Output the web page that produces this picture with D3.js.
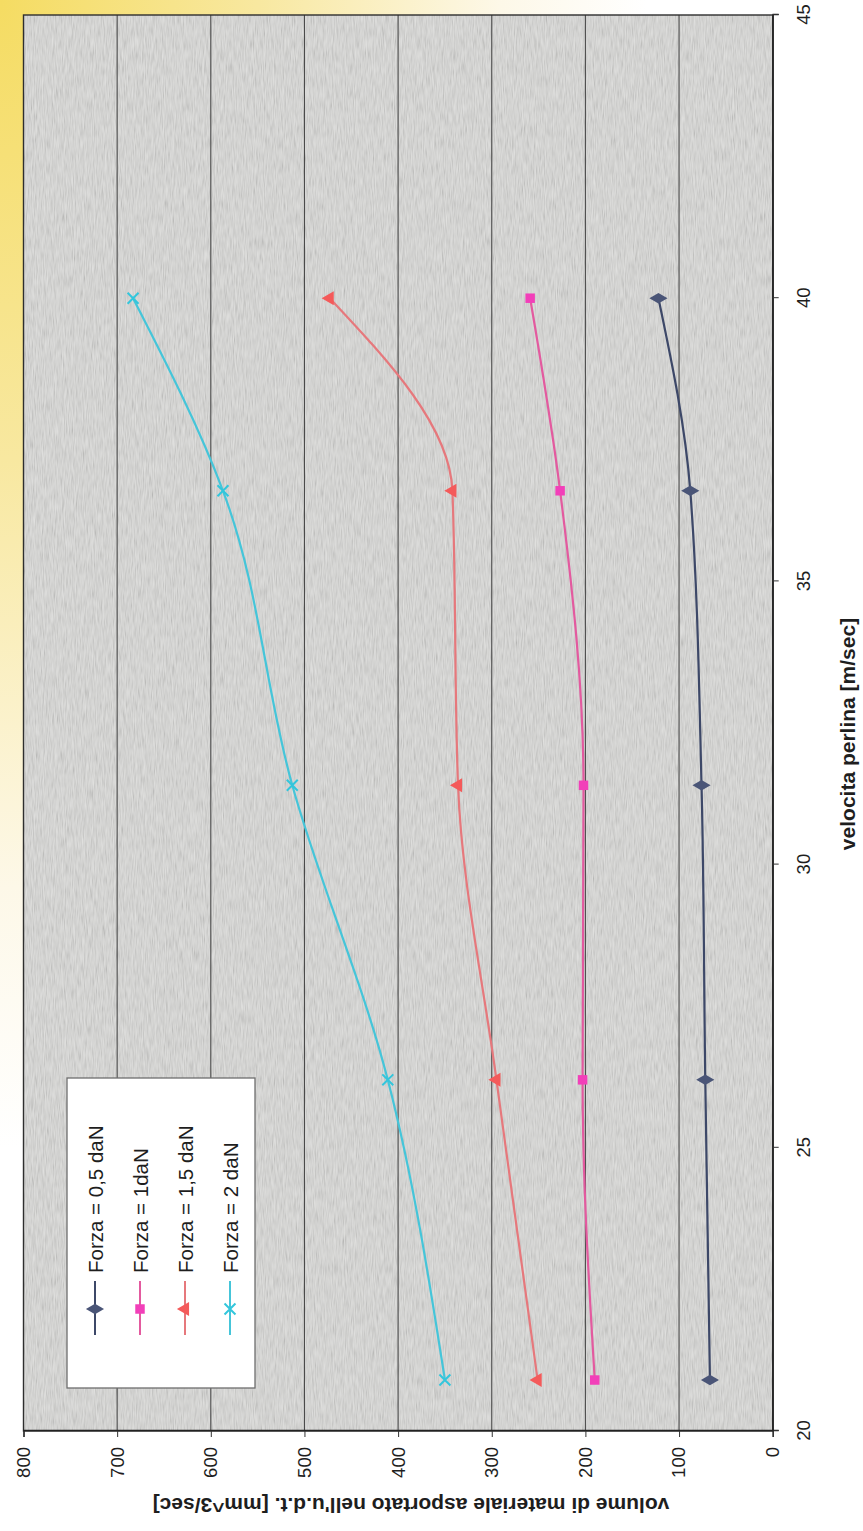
<!DOCTYPE html>
<html>
<head>
<meta charset="utf-8">
<script src="https://cdn.jsdelivr.net/npm/d3@7"></script>
<style>
  html, body { margin: 0; padding: 0; background: #ffffff; }
  svg { display: block; }
  text { font-family: "Liberation Sans", Arial, sans-serif; fill: #1e1e1e; }
</style>
</head>
<body>
<script>
// Volume removed per unit time vs bead speed, one series per applied force
const velocity = [20.9, 26.2, 31.4, 36.6, 40.0];
const forza05 = [67, 72, 76, 88, 122];
const forza1 = [190, 203, 202, 227, 259];
const forza15 = [251, 295, 336, 342, 473];
const forza2 = [350, 411, 513, 587, 683];

const seriesNames = ["Forza = 0,5 daN", "Forza = 1daN", "Forza = 1,5 daN", "Forza = 2 daN"];
const velocityTicks = [20, 25, 30, 35, 40, 45];
const volumeTicks = [0, 100, 200, 300, 400, 500, 600, 700, 800];
const xTitle = "velocita perlina [m/sec]";
const yTitle = "volume di materiale asportato nell'u.d.t. [mm^3/sec]";

const W = 863, H = 1531;
const svg = d3.select("body").append("svg").attr("width", W).attr("height", H);
const defs = svg.append("defs");

// warm paper tint spreading from the top-left corner
const grad = defs.append("radialGradient").attr("id", "paper")
  .attr("cx", 0).attr("cy", 0).attr("r", 1).attr("fx", 0).attr("fy", 0);
grad.append("stop").attr("offset", "0").attr("stop-color", "#f5dc62");
grad.append("stop").attr("offset", "0.3").attr("stop-color", "#f8e8a0");
grad.append("stop").attr("offset", "0.58").attr("stop-color", "#fdf8e8");
grad.append("stop").attr("offset", "0.75").attr("stop-color", "#ffffff");
svg.append("rect").attr("width", W).attr("height", H).attr("fill", "url(#paper)");

// fine vertical grain for the plot background
const grain = defs.append("filter").attr("id", "grain")
  .attr("x", 0).attr("y", 0).attr("width", 1).attr("height", 1);
grain.append("feTurbulence").attr("type", "fractalNoise")
  .attr("baseFrequency", "1.1 0.08").attr("numOctaves", 2).attr("seed", 7);
grain.append("feColorMatrix").attr("type", "matrix")
  .attr("values", "1.2 0 0 0 -0.05  1.2 0 0 0 -0.05  1.2 0 0 0 -0.05  0 0 0 0 0.22");

// Chart is laid out in an unrotated frame and turned 90° anticlockwise
const x = d3.scaleLinear().domain([20, 45]).range([100, 1516]);
const y = d3.scaleLinear().domain([0, 800]).range([772.7, 23.5]);

// plot background with grain (screen space, under everything else)
svg.append("rect")
  .attr("x", y(800)).attr("y", H - x(45))
  .attr("width", y(0) - y(800)).attr("height", x(45) - x(20))
  .attr("fill", "#d7d7d5");
svg.append("rect")
  .attr("x", y(800)).attr("y", H - x(45))
  .attr("width", y(0) - y(800)).attr("height", x(45) - x(20))
  .attr("fill", "#888").attr("filter", "url(#grain)");

const g = svg.append("g").attr("transform", `translate(0,${H}) rotate(-90)`);

// horizontal gridlines at each volume tick
g.append("g").selectAll("line")
  .data(volumeTicks.filter(d => d > 0 && d < 800))
  .join("line")
  .attr("x1", x(20)).attr("x2", x(45))
  .attr("y1", d => y(d)).attr("y2", d => y(d))
  .attr("stroke", "#4a4a4a").attr("stroke-width", 1.1);

// plot frame
g.append("rect")
  .attr("x", x(20)).attr("y", y(800))
  .attr("width", x(45) - x(20)).attr("height", y(0) - y(800))
  .attr("fill", "none").attr("stroke", "#2e2e2e").attr("stroke-width", 1.4);

// axes
const xAxis = g.append("g").attr("transform", `translate(0,${y(0)})`)
  .call(d3.axisBottom(x).tickValues(velocityTicks).tickSize(6).tickPadding(18).tickFormat(d3.format("d")));
const yAxis = g.append("g").attr("transform", `translate(${x(20)},0)`)
  .call(d3.axisLeft(y).tickValues(volumeTicks).tickSize(6).tickPadding(10).tickFormat(d3.format("d")));
[xAxis, yAxis].forEach(a => {
  a.selectAll("path").attr("stroke", "#222").attr("stroke-width", 1.4);
  a.selectAll("line").attr("stroke", "#333");
  a.selectAll("text").attr("font-size", 18.5).attr("fill", "#222")
    .style("font-family", "'Liberation Sans', Arial, sans-serif");
});

// axis titles
g.append("text")
  .attr("x", 797).attr("y", 847)
  .attr("text-anchor", "middle").attr("dominant-baseline", "central")
  .attr("font-size", 21).attr("font-weight", "bold")
  .text(xTitle);
g.append("text")
  .attr("transform", `translate(26,411) rotate(-90)`)
  .attr("text-anchor", "middle").attr("dominant-baseline", "central")
  .attr("font-size", 21).attr("font-weight", "bold")
  .text(yTitle);

// series
const series = [
  { name: seriesNames[0], values: forza05, line: "#3d4868", mark: "#4a5577", symbol: d3.symbolDiamond, size: 95, stroke: false },
  { name: seriesNames[1], values: forza1, line: "#e35a9f", mark: "#f23fb9", symbol: d3.symbolSquare, size: 90, stroke: false },
  { name: seriesNames[2], values: forza15, line: "#e6787c", mark: "#f45a5a", symbol: d3.symbolTriangle, size: 85, stroke: false },
  { name: seriesNames[3], values: forza2, line: "#45c5d9", mark: "#32c6dc", symbol: d3.symbolTimes, size: 80, stroke: true }
];

const line = d3.line()
  .x((d, i) => x(velocity[i]))
  .y(d => y(d))
  .curve(d3.curveMonotoneX);

const sg = g.append("g").selectAll("g").data(series).join("g");
sg.append("path")
  .attr("d", d => line(d.values))
  .attr("fill", "none")
  .attr("stroke", d => d.line)
  .attr("stroke-width", 2.2);
sg.each(function (s) {
  const sym = d3.symbol().type(s.symbol).size(s.size);
  d3.select(this).selectAll("path.mark")
    .data(s.values)
    .join("path")
    .attr("class", "mark")
    .attr("transform", (d, i) => `translate(${x(velocity[i])},${y(d)})`)
    .attr("d", sym)
    .attr("fill", s.stroke ? "none" : s.mark)
    .attr("stroke", s.stroke ? s.mark : "none")
    .attr("stroke-width", s.stroke ? 2 : 0);
});

// legend
const leg = g.append("g");
leg.append("rect")
  .attr("x", 143).attr("y", 67).attr("width", 310).attr("height", 188)
  .attr("fill", "#ffffff").attr("stroke", "#6e6e6e").attr("stroke-width", 1.3);
const items = leg.selectAll("g.item").data(series).join("g")
  .attr("class", "item")
  .attr("transform", (d, i) => `translate(0,${95 + i * 45})`);
items.append("line")
  .attr("x1", 196).attr("x2", 250)
  .attr("stroke", d => d.line).attr("stroke-width", 2);
items.append("path")
  .attr("transform", "translate(222,0)")
  .attr("d", d => d3.symbol().type(d.symbol).size(d.size)())
  .attr("fill", d => d.stroke ? "none" : d.mark)
  .attr("stroke", d => d.stroke ? d.mark : "none")
  .attr("stroke-width", d => d.stroke ? 2 : 0);
items.append("text")
  .attr("x", 258).attr("y", 0)
  .attr("dominant-baseline", "central")
  .attr("font-size", 20.5)
  .text(d => d.name);
</script>
</body>
</html>
